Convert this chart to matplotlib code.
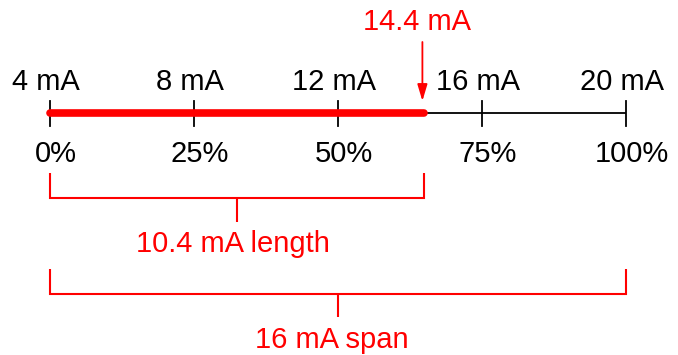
import matplotlib
matplotlib.use("Agg")
import matplotlib.pyplot as plt

# ---- data ----
ma_ticks = [4, 8, 12, 16, 20]
ma_labels = ["4 mA", "8 mA", "12 mA", "16 mA", "20 mA"]
pct_labels = ["0%", "25%", "50%", "75%", "100%"]
lrv = 4.0
urv = 20.0
signal = 14.4
signal_label = "14.4 mA"
length_label = "10.4 mA length"
span_label = "16 mA span"

RED = "#ff0000"
plt.rcParams["font.family"] = ["Liberation Sans", "DejaVu Sans"]
FS = 21

fig = plt.figure(figsize=(6.78, 3.55), dpi=100)
ax = fig.add_axes([0, 0, 1, 1])
PX = 36.0  # pixels per mA
ax.set_xlim(lrv - 50 / PX, urv + 52 / PX)
ax.set_ylim(355, 0)
ax.axis("off")

def dx(px):
    return px / PX

# scale line
ax.plot([lrv, urv], [113, 113], color="black", lw=1.3, solid_capstyle="butt", zorder=1)
for t in ma_ticks:
    ax.plot([t, t], [101, 126], color="black", lw=1.3, zorder=1)
ax.plot([lrv, signal], [113, 113], color=RED, lw=5.5, solid_capstyle="round", zorder=2)

for t, lab in zip(ma_ticks, ma_labels):
    ax.text(t + dx(-4), 90, lab, ha="center", va="baseline", fontsize=FS, color="black")
for t, lab in zip(ma_ticks, pct_labels):
    ax.text(t + dx(6), 162, lab, ha="center", va="baseline", fontsize=FS, color="black")

# arrow
sx = signal - dx(2)
ax.annotate("", xy=(sx, 101), xytext=(sx, 42),
            arrowprops=dict(arrowstyle="-|>,head_length=1.0,head_width=0.3",
                            color=RED, lw=1.3, shrinkA=0, shrinkB=0))
ax.text(sx + dx(-5), 30, signal_label, ha="center", va="baseline", fontsize=FS, color=RED)

def bracket(x0, x1, ytop, ybar, ytick, label, ybase, lab_dx):
    ax.plot([x0, x0, x1, x1], [ytop, ybar, ybar, ytop], color=RED, lw=1.5,
            solid_joinstyle="miter", solid_capstyle="butt")
    xm = (x0 + x1) / 2
    ax.plot([xm, xm], [ybar, ytick], color=RED, lw=1.5, solid_capstyle="butt")
    ax.text(xm + dx(lab_dx), ybase, label, ha="center", va="baseline", fontsize=FS, color=RED)

bracket(lrv, signal, 173, 198, 222, length_label, 252, -4)
bracket(lrv, urv, 269, 294, 317, span_label, 348, -6)

fig.savefig("out.png", dpi=100)
